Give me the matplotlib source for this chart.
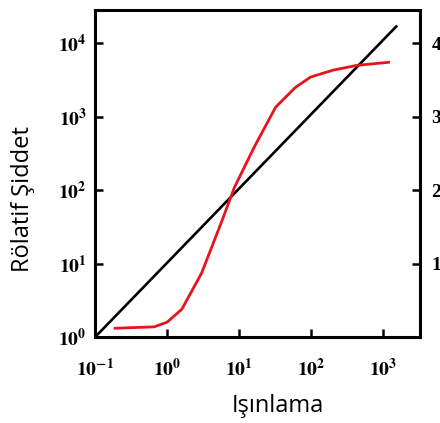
import matplotlib.pyplot as plt
import matplotlib.ticker as mticker

plt.rcParams["mathtext.fontset"] = "stix"

# black reference line (slope 1 on log-log)
line_x = [0.1, 1550]
line_y = [1.0, 17400]

# red response curve
curve_x = [0.19, 0.66, 1.0, 1.6, 3.0, 5.8, 8.5, 16, 32, 60, 98, 200, 430, 1180]
curve_y = [1.32, 1.38, 1.6, 2.4, 7.4, 39, 107, 380, 1350, 2500, 3470, 4300, 5000, 5500]

x_ticks = [0.1, 1, 10, 100, 1000]
x_labels = [r"$\mathbf{10^{-1}}$", r"$\mathbf{10^{0}}$", r"$\mathbf{10^{1}}$",
            r"$\mathbf{10^{2}}$", r"$\mathbf{10^{3}}$"]
y_ticks = [1, 10, 100, 1000, 10000]
y_labels = [r"$\mathbf{10^{0}}$", r"$\mathbf{10^{1}}$", r"$\mathbf{10^{2}}$",
            r"$\mathbf{10^{3}}$", r"$\mathbf{10^{4}}$"]
right_ticks = [10, 100, 1000, 10000]
right_labels = ["1", "2", "3", "4"]

fig = plt.figure(figsize=(4.4, 4.23), dpi=100)
ax = fig.add_axes([0.216, 0.203, 0.739, 0.773])

ax.plot(line_x, line_y, color="black", lw=1.9, solid_capstyle="butt")
ax.plot(curve_x, curve_y, color="#e8141c", lw=2.0)

ax.set_xscale("log")
ax.set_yscale("log")
ax.set_xlim(10 ** -0.96, 10 ** 3.51)
ax.set_ylim(1, 10 ** 4.45)

ax.xaxis.set_minor_locator(mticker.NullLocator())
ax.yaxis.set_minor_locator(mticker.NullLocator())
ax.set_xticks(x_ticks)
ax.set_xticklabels(x_labels, fontsize=14)
ax.set_yticks(y_ticks)
ax.set_yticklabels(y_labels, fontsize=14)
ax.tick_params(direction="in", length=6, width=1.8, pad=6)
ax.tick_params(axis="x", pad=15)

for sp in ax.spines.values():
    sp.set_linewidth(2.2)

ax2 = ax.twinx()
ax2.set_yscale("log")
ax2.set_ylim(ax.get_ylim())
ax2.yaxis.set_minor_locator(mticker.NullLocator())
ax2.set_yticks(right_ticks)
ax2.set_yticklabels(right_labels, fontsize=14, fontweight="bold", family="Liberation Serif")
ax2.tick_params(direction="in", length=6, width=1.8, pad=8)

fig.text(278 / 440, 1 - 406 / 423, "Işınlama", fontsize=17, family="Open Sans",
         ha="center", va="center")
fig.text(23 / 440, 1 - 199 / 423, "Rölatif Şiddet", fontsize=17, family="Open Sans",
         ha="center", va="center", rotation=90)

fig.savefig("out.png", dpi=100)
